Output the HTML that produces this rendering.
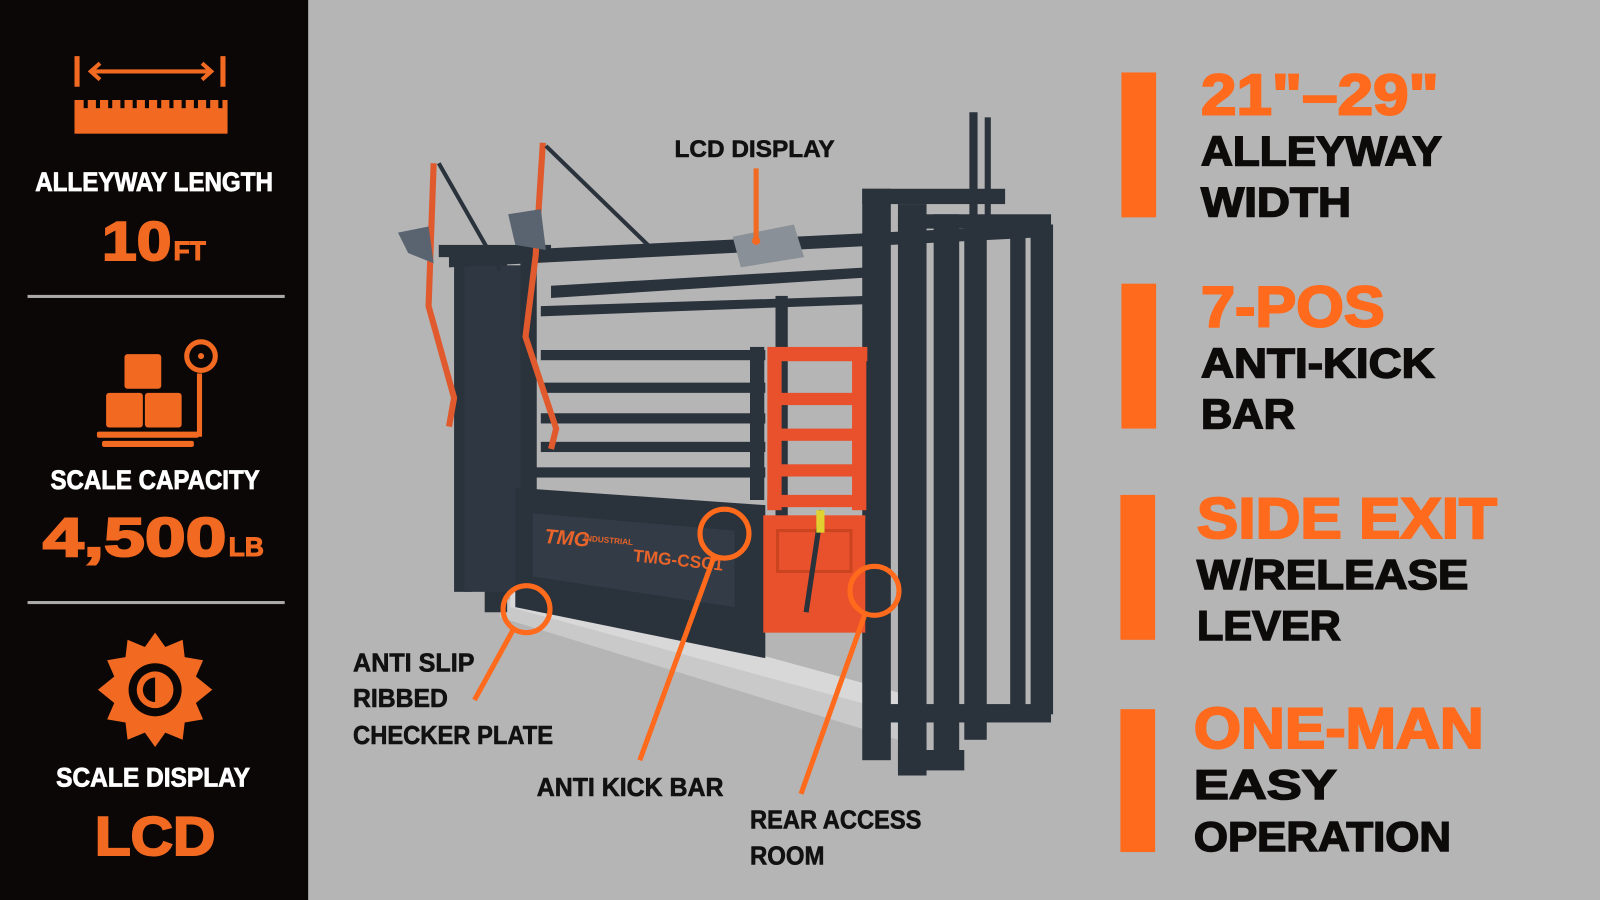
<!DOCTYPE html>
<html><head><meta charset="utf-8"><style>
html,body{margin:0;padding:0;width:1600px;height:900px;overflow:hidden;background:#b5b5b5}
svg{display:block}
text{font-family:"Liberation Sans",sans-serif;font-weight:bold}
</style></head><body>
<svg width="1600" height="900" viewBox="0 0 1568 882" preserveAspectRatio="none">
<rect x="0" y="0" width="1568" height="882" fill="#b5b5b5"/>
<!-- left panel -->
<rect x="0" y="0" width="302" height="882" fill="#0c0707"/>
<g fill="#f26a21" stroke="#f26a21">
<rect x="73" y="55" width="5" height="30" stroke="none"/>
<rect x="216" y="55" width="5" height="30" stroke="none"/>
<line x1="90" y1="70" x2="206" y2="70" stroke-width="4"/>
<polyline points="98,62 89,70 98,78" fill="none" stroke-width="4"/>
<polyline points="198,62 207,70 198,78" fill="none" stroke-width="4"/>
<rect x="73" y="98" width="150" height="33" stroke="none"/>
</g>
<g fill="#0c0707"><rect x="82" y="98" width="4" height="8"/><rect x="94" y="98" width="4" height="8"/><rect x="106" y="98" width="4" height="8"/><rect x="118" y="98" width="4" height="8"/><rect x="130" y="98" width="4" height="8"/><rect x="142" y="98" width="4" height="8"/><rect x="154" y="98" width="4" height="8"/><rect x="166" y="98" width="4" height="8"/><rect x="178" y="98" width="4" height="8"/><rect x="190" y="98" width="4" height="8"/><rect x="202" y="98" width="4" height="8"/><rect x="214" y="98" width="4" height="8"/></g>
<text x="151" y="187" fill="#fff" stroke="#fff" stroke-width="0.8" font-size="26" text-anchor="middle" textLength="233" lengthAdjust="spacingAndGlyphs">ALLEYWAY LENGTH</text>
<text x="100" y="255" fill="#f26a21" stroke="#f26a21" stroke-width="2" font-size="54" textLength="68" lengthAdjust="spacingAndGlyphs">10</text>
<text x="170" y="255" fill="#f26a21" stroke="#f26a21" stroke-width="1" font-size="26">FT</text>
<rect x="27" y="289" width="252" height="3" fill="#aaa"/>
<g fill="#f26a21">
<rect x="122" y="347" width="36" height="34" rx="3"/>
<rect x="104" y="385" width="36" height="34" rx="3"/>
<rect x="142" y="385" width="36" height="34" rx="3"/>
<rect x="95" y="423" width="100" height="6" rx="2"/>
<rect x="100" y="432" width="90" height="6" rx="2"/>
<rect x="193" y="366" width="5" height="62"/>
</g>
<circle cx="197" cy="349" r="14" fill="none" stroke="#f26a21" stroke-width="5"/>
<circle cx="197" cy="349" r="3" fill="#f26a21"/>
<text x="152" y="479" fill="#fff" stroke="#fff" stroke-width="0.8" font-size="26" text-anchor="middle" textLength="205" lengthAdjust="spacingAndGlyphs">SCALE CAPACITY</text>
<text x="42" y="545" fill="#f26a21" stroke="#f26a21" stroke-width="2" font-size="54" textLength="180" lengthAdjust="spacingAndGlyphs">4,500</text>
<text x="224" y="545" fill="#f26a21" stroke="#f26a21" stroke-width="1" font-size="26">LB</text>
<rect x="27" y="589" width="252" height="3" fill="#aaa"/>
<g transform="translate(152,676)">
<polygon fill="#f26a21" points="0,-56 10,-42 27,-49 29,-32 47,-29 40,-13 56,0 40,13 47,29 29,32 27,49 10,42 0,56 -10,42 -27,49 -29,32 -47,29 -40,13 -56,0 -40,-13 -47,-29 -29,-32 -27,-49 -10,-42"/>
<circle r="26" fill="#0c0707"/>
<circle r="18" fill="#f26a21"/>
<path d="M0,-12 A12,12 0 0,0 0,12 Z" fill="#0c0707"/>
</g>
<text x="150" y="771" fill="#fff" stroke="#fff" stroke-width="0.8" font-size="26" text-anchor="middle" textLength="190" lengthAdjust="spacingAndGlyphs">SCALE DISPLAY</text>
<text x="152" y="838" fill="#f26a21" stroke="#f26a21" stroke-width="2" font-size="54" text-anchor="middle" textLength="118" lengthAdjust="spacingAndGlyphs">LCD</text>

<!-- chute -->
<g fill="#2a323c">
<polygon points="490,585 880,690 880,725 490,605" fill="#c9c9c9"/>
<polygon points="500,575 885,680 885,700 500,595" fill="#d8d8d8"/>
<rect x="445" y="245" width="18" height="335"/>
<rect x="475" y="255" width="22" height="345"/>
<rect x="455" y="260" width="60" height="320" fill="#2f3743"/>
<rect x="430" y="240" width="110" height="12"/>
<polygon points="440,248 1030,220 1030,232 440,262"/>
<polygon points="540,280 850,262 850,272 540,292"/>
<polygon points="530,300 850,290 850,298 530,310"/>
<rect x="510" y="255" width="16" height="330"/>
<rect x="760" y="290" width="12" height="320"/>
<rect x="530" y="343" width="220" height="10"/>
<rect x="530" y="375" width="220" height="10"/>
<rect x="530" y="405" width="220" height="10"/>
<rect x="530" y="433" width="220" height="10"/>
<rect x="525" y="458" width="225" height="10"/>
<rect x="735" y="340" width="14" height="150"/>
<polygon points="505,478 750,495 750,645 505,595"/>
<polygon points="522,503 720,520 720,595 522,565" fill="#323b46"/>
<text x="533" y="532" fill="#e8642a" font-size="20" font-style="italic" transform="rotate(5 533 532)">TMG</text>
<text x="572" y="530" fill="#e8642a" font-size="8" transform="rotate(5 572 530)">INDUSTRIAL</text>
<text x="620" y="550" fill="#e8642a" font-size="17" transform="rotate(6 620 550)">TMG-CSC1</text>
<rect x="845" y="185" width="28" height="560"/>
<rect x="880" y="200" width="28" height="560"/>
<rect x="915" y="210" width="25" height="530"/>
<rect x="945" y="215" width="22" height="510"/>
<rect x="990" y="225" width="15" height="480"/>
<rect x="1010" y="220" width="22" height="480"/>
<rect x="845" y="185" width="140" height="15"/>
<rect x="880" y="210" width="150" height="14"/>
<rect x="870" y="690" width="160" height="18"/>
<rect x="880" y="735" width="65" height="20"/>
<rect x="950" y="110" width="8" height="110"/>
<rect x="965" y="115" width="6" height="105"/>
</g>
<g fill="#e9512c">
<rect x="760" y="340" width="90" height="14"/>
<rect x="758" y="385" width="90" height="12"/>
<rect x="758" y="420" width="90" height="12"/>
<rect x="755" y="455" width="92" height="12"/>
<rect x="752" y="485" width="95" height="12"/>
<rect x="752" y="340" width="14" height="160"/>
<rect x="835" y="340" width="14" height="160"/>
<rect x="748" y="505" width="100" height="115"/>
</g>
<rect x="762" y="520" width="72" height="40" fill="none" stroke="#c9441f" stroke-width="3"/>
<line x1="805" y1="500" x2="790" y2="600" stroke="#2a323c" stroke-width="5"/>
<rect x="800" y="500" width="8" height="22" fill="#e0d030"/>
<polyline points="425,160 420,300 445,390 440,418" fill="none" stroke="#e05a2e" stroke-width="6"/>
<polyline points="532,140 525,250 515,330 545,420 540,440" fill="none" stroke="#e05a2e" stroke-width="6"/>
<line x1="430" y1="160" x2="490" y2="265" stroke="#2a323c" stroke-width="4"/>
<line x1="535" y1="143" x2="640" y2="245" stroke="#2a323c" stroke-width="4"/>
<polygon points="390,228 420,222 425,258 400,248" fill="#5a6470"/>
<polygon points="498,210 530,205 535,245 505,240" fill="#5a6470"/>
<polygon points="718,232 778,220 788,252 726,262" fill="#8a9098"/>
<!-- labels -->
<text x="661" y="154" fill="#111" stroke="#111" stroke-width="0.6" font-size="24" textLength="157" lengthAdjust="spacingAndGlyphs">LCD DISPLAY</text>
<line x1="741" y1="165" x2="741" y2="234" stroke="#f26a21" stroke-width="5"/>
<circle cx="741" cy="236" r="4" fill="#f26a21"/>
<g fill="none" stroke="#ff6a1c" stroke-width="5">
<circle cx="516" cy="597" r="23"/>
<line x1="503" y1="617" x2="465" y2="686"/>
<circle cx="710" cy="523" r="24"/>
<line x1="700" y1="545" x2="627" y2="745"/>
<circle cx="857" cy="579" r="24"/>
<line x1="848" y1="601" x2="785" y2="778"/>
</g>
<g fill="#111" stroke="#111" stroke-width="0.6" font-size="25">
<text x="346" y="658" textLength="119" lengthAdjust="spacingAndGlyphs">ANTI SLIP</text>
<text x="346" y="693" textLength="93" lengthAdjust="spacingAndGlyphs">RIBBED</text>
<text x="346" y="729" textLength="196" lengthAdjust="spacingAndGlyphs">CHECKER PLATE</text>
<text x="526" y="780" textLength="183" lengthAdjust="spacingAndGlyphs">ANTI KICK BAR</text>
<text x="735" y="812" textLength="168" lengthAdjust="spacingAndGlyphs">REAR ACCESS</text>
<text x="735" y="847" textLength="73" lengthAdjust="spacingAndGlyphs">ROOM</text>
</g>
<g fill="#ff6a1c">
<rect x="1099" y="71" width="34" height="142"/>
<rect x="1099" y="278" width="34" height="142"/>
<rect x="1098" y="485" width="34" height="142"/>
<rect x="1098" y="695" width="34" height="140"/>
</g>
<g font-size="56" fill="#ff6a1c" stroke="#ff6a1c" stroke-width="2">
<text x="1177" y="112" textLength="233" lengthAdjust="spacingAndGlyphs">21"–29"</text>
<text x="1177" y="320" textLength="180" lengthAdjust="spacingAndGlyphs">7-POS</text>
<text x="1173" y="527" textLength="294" lengthAdjust="spacingAndGlyphs">SIDE EXIT</text>
<text x="1170" y="733" textLength="284" lengthAdjust="spacingAndGlyphs">ONE-MAN</text>
</g>
<g font-size="41" fill="#0d0a0a" stroke="#0d0a0a" stroke-width="1.5">
<text x="1177" y="162" textLength="236" lengthAdjust="spacingAndGlyphs">ALLEYWAY</text>
<text x="1177" y="212" textLength="147" lengthAdjust="spacingAndGlyphs">WIDTH</text>
<text x="1177" y="370" textLength="229" lengthAdjust="spacingAndGlyphs">ANTI-KICK</text>
<text x="1177" y="420" textLength="92" lengthAdjust="spacingAndGlyphs">BAR</text>
<text x="1173" y="577" textLength="266" lengthAdjust="spacingAndGlyphs">W/RELEASE</text>
<text x="1173" y="627" textLength="141" lengthAdjust="spacingAndGlyphs">LEVER</text>
<text x="1170" y="783" textLength="140" lengthAdjust="spacingAndGlyphs">EASY</text>
<text x="1170" y="834" textLength="252" lengthAdjust="spacingAndGlyphs">OPERATION</text>
</g>
</svg>
</body></html>
